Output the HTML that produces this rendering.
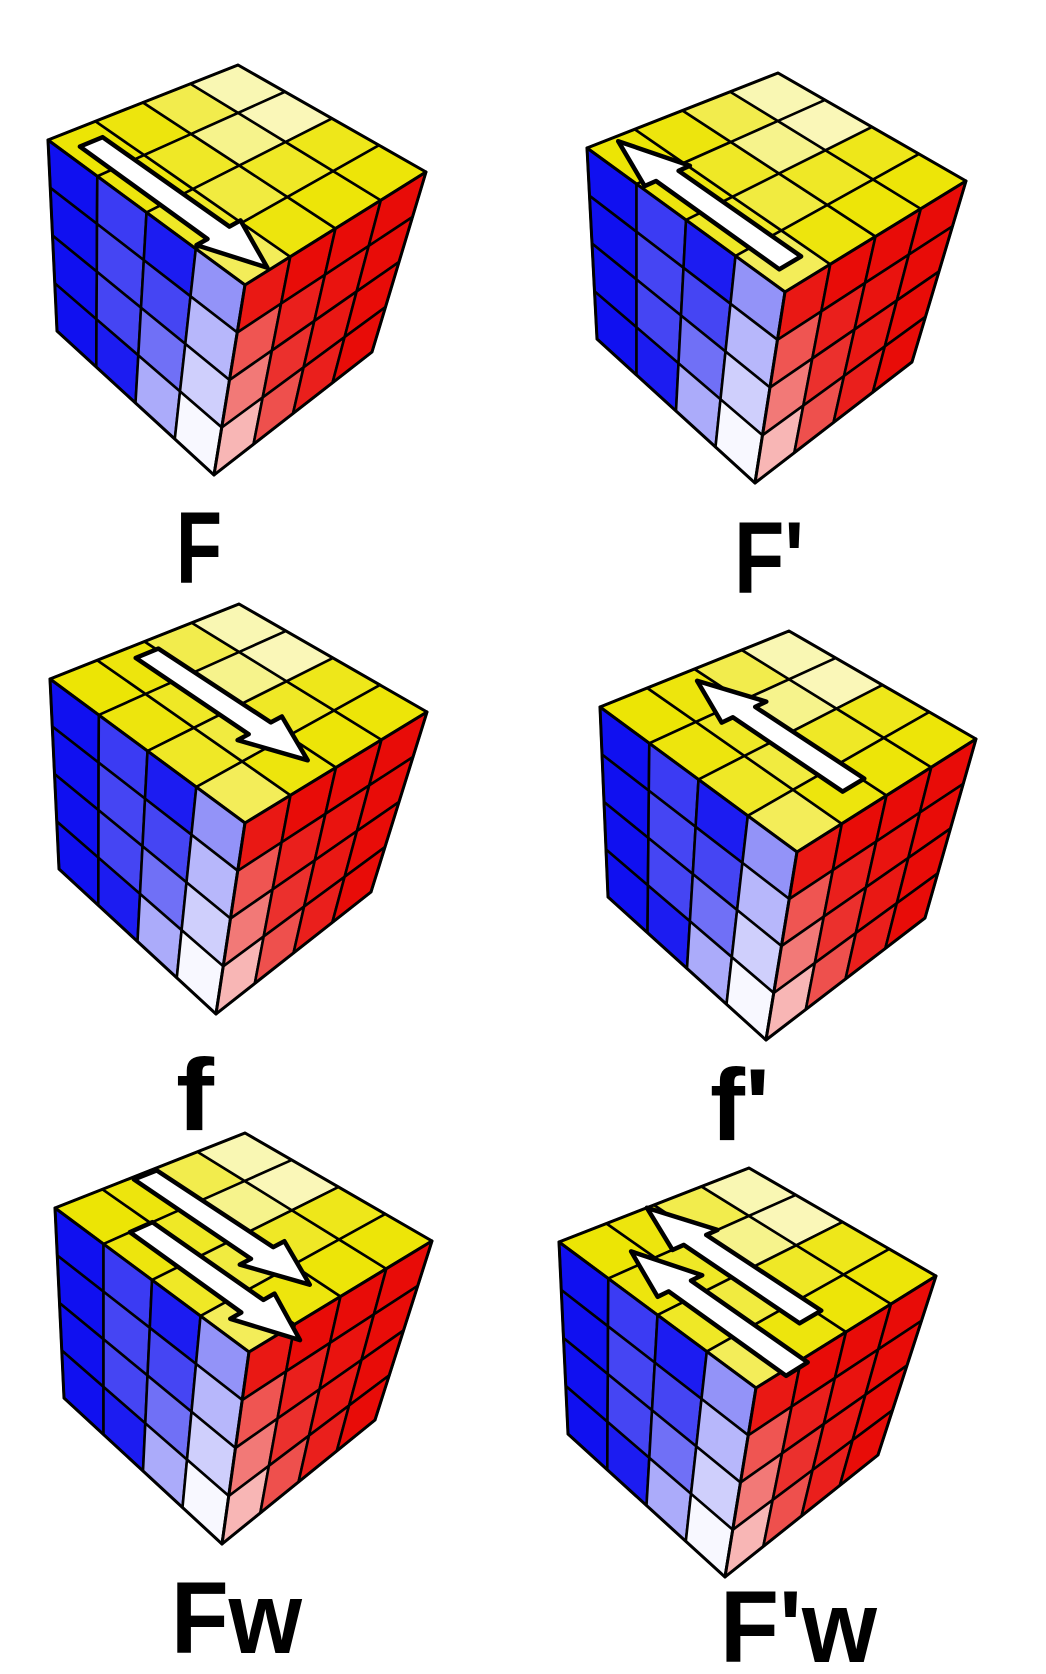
<!DOCTYPE html>
<html><head><meta charset="utf-8"><style>
html,body{margin:0;padding:0;background:#fff;}
svg{display:block}
text{font-family:"Liberation Sans",sans-serif;font-weight:bold;fill:#000}
</style></head><body>
<svg id="s" width="1046" height="1674" viewBox="0 0 1046 1674" xmlns="http://www.w3.org/2000/svg">
<rect width="1046" height="1674" fill="#fff"/>
<g id="cubes"></g>
<text x="176" y="583" font-size="102" textLength="46" lengthAdjust="spacingAndGlyphs">F</text>
<text x="734" y="593" font-size="102" textLength="70" lengthAdjust="spacingAndGlyphs">F'</text>
<text x="176" y="1130" font-size="102" textLength="38" lengthAdjust="spacingAndGlyphs">f</text>
<text x="710" y="1140" font-size="102" textLength="60" lengthAdjust="spacingAndGlyphs">f'</text>
<text x="171" y="1653" font-size="102" textLength="131" lengthAdjust="spacingAndGlyphs">Fw</text>
<text x="720" y="1662" font-size="102" textLength="157" lengthAdjust="spacingAndGlyphs">F'w</text>
</svg>
<script>
const cubeNames=['cube-F','cube-F-prime','cube-f','cube-f-prime','cube-Fw','cube-F-prime-w'];
const cubePts=[
 {T:[238,65],L:[48,140],R:[426,172],C:[245,285],BL:[57,331],B:[214,475],BR:[372,352]},
 {T:[778,73],L:[587,148],R:[966,181],C:[785,292],BL:[597,339],B:[755,483],BR:[912,362]},
 {T:[239,604],L:[50,679],R:[427,712],C:[245,823],BL:[59,869],B:[216,1014],BR:[371,892]},
 {T:[789,631],L:[600,707],R:[976,739],C:[797,852],BL:[608,897],B:[766,1040],BR:[925,918]},
 {T:[245,1133],L:[55,1208],R:[432,1241],C:[249,1352],BL:[64,1398],B:[222,1544],BR:[375,1420]},
 {T:[749,1168],L:[559,1242],R:[936,1276],C:[756,1388],BL:[568,1434],B:[725,1577],BR:[878,1455]}
];
const cubeArrows=[
 [[0.55,0.35,3.95]],
 [[0.55,3.6,0.1]],
 [[1.8,0.25,3.6]],
 [[1.8,3.5,0.25]],
 [[1.85,0.05,3.5],[0.8,1.0,4.3]],
 [[1.85,3.4,0.0],[0.8,4.1,0.7]]
];
const blueW=[[0,0,0,0],[0.18,0.22,0.22,0.05],[0.05,0.22,0.4,0.65],[0.55,0.7,0.8,0.97]];
const redW=[[0.05,0.3,0.45,0.7],[0,0.08,0.15,0.28],[0,0.03,0.05,0.08],[0,0,0,0]];
const topW=[[0.02,0.05,0.15,0.35],[0.05,0.15,0.25,0.05],[0.3,0.55,0.15,0.03],[0.7,0.72,0.1,0.03]];
function bil(p00,p10,p11,p01,s,t){return [(1-s)*(1-t)*p00[0]+s*(1-t)*p10[0]+s*t*p11[0]+(1-s)*t*p01[0],(1-s)*(1-t)*p00[1]+s*(1-t)*p10[1]+s*t*p11[1]+(1-s)*t*p01[1]];}
function mix(c,w){return 'rgb('+c.map(v=>Math.round(v+(255-v)*w)).join(',')+')';}
const NS='http://www.w3.org/2000/svg';
const root=document.getElementById('cubes');
function poly(g,pts,fill,sw){const p=document.createElementNS(NS,'polygon');p.setAttribute('points',pts.map(q=>q[0].toFixed(1)+','+q[1].toFixed(1)).join(' '));p.setAttribute('fill',fill);p.setAttribute('stroke','#000');p.setAttribute('stroke-width',sw);p.setAttribute('stroke-linejoin','round');g.appendChild(p);return p;}
function face(g,c00,c10,c11,c01,col,W,name){
 const fg=document.createElementNS(NS,'g');
 
 
 g.appendChild(fg);
 for(let i=0;i<4;i++)for(let j=0;j<4;j++){
  const q=[bil(c00,c10,c11,c01,i/4,j/4),bil(c00,c10,c11,c01,(i+1)/4,j/4),bil(c00,c10,c11,c01,(i+1)/4,(j+1)/4),bil(c00,c10,c11,c01,i/4,(j+1)/4)];
  const p=poly(fg,q,mix(col,W[i][j]),2.6);
  
  
 }
 const o=poly(fg,[c00,c10,c11,c01],'none',3);
 
 
}
cubePts.forEach((P,k)=>{
 const g=document.createElementNS(NS,'g');
 
 
 root.appendChild(g);
 const topFn=(a,b)=>bil(P.L,P.T,P.R,P.C,a/4,b/4);
 const tg=document.createElementNS(NS,'g');
 
 
 g.appendChild(tg);
 for(let a=0;a<4;a++)for(let b=0;b<4;b++){
  const p=poly(tg,[topFn(a,b),topFn(a+1,b),topFn(a+1,b+1),topFn(a,b+1)],mix([236,228,0],topW[a][b]),2.6);
  
  
 }
 poly(tg,[P.L,P.T,P.R,P.C],'none',3);
 face(g,P.L,P.C,P.B,P.BL,[16,16,240],blueW,'left-face');
 face(g,P.C,P.R,P.BR,P.B,[232,12,8],redW,'right-face');
 cubeArrows[k].forEach(ar=>{
  const [a,b0,b1]=ar;const dir=b1>b0?1:-1;const len=Math.abs(b1-b0);const hl=Math.min(1.0,len*0.3);
  const bh=b1-dir*hl;const sw=0.24,hw=0.48;
  const pts=[[a-sw,b0],[a+sw,b0],[a+sw,bh],[a+hw,bh],[a,b1],[a-hw,bh],[a-sw,bh]].map(q=>topFn(q[0],q[1]));
  const p=poly(g,pts,'#fff',4.5);
  
  
 });
});
</script>
</body></html>
